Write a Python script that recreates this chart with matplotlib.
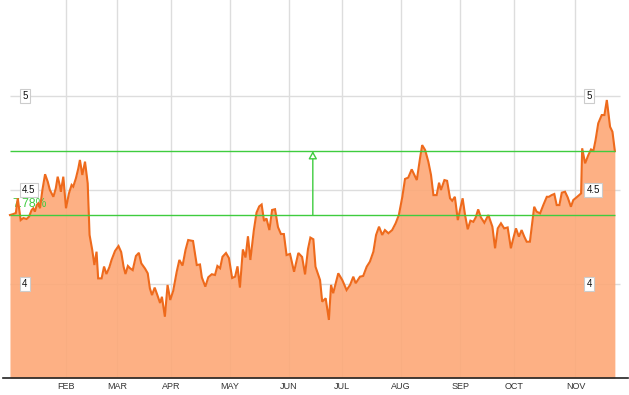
import matplotlib
matplotlib.use("Agg")
import matplotlib.pyplot as plt
import numpy as np

# trading-day index (from first day) and price
days = [0, 1.2, 2.2, 2.9, 4.0, 5.0, 6.2, 7.1, 8.1, 8.7, 9.3, 10.0, 10.6, 11.2, 12.1, 13.1, 14.1, 14.9,
        16.2, 17.1, 17.8, 18.7, 19.0, 19.9, 20.9, 22.0, 23.0, 23.6, 24.6, 25.5, 26.1, 27.0, 28.0, 29.0,
        29.7, 30.7, 31.5, 32.3, 32.9, 34.2, 35.1, 36.0, 37.1, 37.9, 39.2, 40.5, 41.5, 42.4, 43.1, 44.0,
        44.8, 45.8, 47.0, 48.1, 49.0, 50.4, 51.4, 52.2, 53.0, 54.0, 55.0, 56.0, 56.7, 57.8, 58.8, 59.8,
        60.9, 62.2, 63.2, 64.4, 65.5, 66.5, 68.3, 69.7, 70.9, 71.6, 72.9, 74.0, 75.3, 76.5, 77.4, 78.4,
        79.3, 80.6, 81.7, 82.9, 84.0, 84.9, 85.8, 86.9, 87.9, 88.8, 89.7, 91.0, 92.0, 93.0, 93.9, 94.8,
        95.7, 96.8, 97.8, 98.9, 100.0, 101.1, 102.2, 103.2, 104.5, 106.0, 107.6, 109.0, 110.1, 111.2,
        112.1, 113.2, 114.0, 115.7, 116.5, 117.8, 119.0, 119.8, 120.6, 122.5, 124.0, 125.6, 126.9, 128.1,
        129.0, 130.6, 131.8, 133.1, 134.3, 135.6, 136.6, 137.7, 138.9, 139.9, 141.2, 142.6, 143.9, 145.1,
        146.4, 147.4, 148.6, 149.9, 151.8, 153.0, 153.8, 154.9, 156.1, 157.1, 158.0, 159.2, 160.1, 160.8,
        162.1, 163.1, 164.2, 165.0, 166.0, 167.1, 167.9, 168.9, 169.8, 170.8, 171.8, 172.9, 173.8, 174.7,
        175.7, 177.0, 178.5, 180.0, 181.0, 182.0, 183.2, 184.4, 185.7, 186.9, 187.8, 188.8, 189.9, 190.9,
        191.9, 192.8, 194.0, 195.6, 196.5, 197.8, 199.0, 200.3, 201.1, 202.1, 203.1, 204.0, 205.0, 205.9,
        207.1, 208.1, 209.3, 210.2, 211.4, 213.1, 213.5, 214.6, 215.8, 216.8, 217.7, 218.5, 219.5, 220.8,
        221.8, 222.7, 223.9, 224.8, 225.7]
prices = [4.367, 4.372, 4.378, 4.456, 4.340, 4.351, 4.346, 4.358, 4.394, 4.403, 4.385, 4.420, 4.429, 4.403,
          4.500, 4.584, 4.544, 4.500, 4.464, 4.509, 4.571, 4.518, 4.491, 4.571, 4.403, 4.482, 4.527, 4.518,
          4.562, 4.615, 4.660, 4.580, 4.651, 4.536, 4.261, 4.181, 4.101, 4.172, 4.030, 4.030, 4.093, 4.053,
          4.090, 4.128, 4.176, 4.202, 4.170, 4.092, 4.053, 4.096, 4.084, 4.074, 4.149, 4.166, 4.110, 4.082,
          4.057, 3.977, 3.941, 3.981, 3.941, 3.899, 3.932, 3.826, 3.995, 3.915, 3.963, 4.064, 4.128, 4.098,
          4.181, 4.234, 4.229, 4.101, 4.104, 4.035, 3.986, 4.036, 4.052, 4.048, 4.096, 4.084, 4.145, 4.165,
          4.138, 4.032, 4.039, 4.094, 3.981, 4.184, 4.141, 4.254, 4.128, 4.287, 4.380, 4.413, 4.423, 4.335,
          4.349, 4.287, 4.394, 4.398, 4.303, 4.266, 4.266, 4.154, 4.160, 4.065, 4.165, 4.144, 4.051, 4.186,
          4.247, 4.238, 4.092, 4.021, 3.906, 3.924, 3.809, 3.995, 3.951, 4.057, 4.021, 3.968, 3.995, 4.039,
          4.004, 4.039, 4.043, 4.092, 4.119, 4.172, 4.261, 4.305, 4.261, 4.287, 4.270, 4.287, 4.323, 4.367,
          4.464, 4.559, 4.566, 4.610, 4.553, 4.669, 4.739, 4.713, 4.651, 4.580, 4.473, 4.473, 4.539, 4.500,
          4.553, 4.549, 4.456, 4.443, 4.464, 4.340, 4.394, 4.456, 4.367, 4.291, 4.337, 4.331, 4.355, 4.397,
          4.355, 4.326, 4.367, 4.305, 4.190, 4.296, 4.323, 4.296, 4.301, 4.190, 4.243, 4.296, 4.252, 4.287,
          4.252, 4.225, 4.225, 4.411, 4.385, 4.376, 4.420, 4.464, 4.464, 4.473, 4.479, 4.420, 4.420, 4.486,
          4.491, 4.461, 4.411, 4.447, 4.461, 4.482, 4.722, 4.642, 4.686, 4.716, 4.709, 4.766, 4.855, 4.899,
          4.899, 4.979, 4.837, 4.810, 4.707]

month_labels = ["FEB", "MAR", "APR", "MAY", "JUN", "JUL", "AUG", "SEP", "OCT", "NOV"]
month_days = [21, 40, 60, 82, 104, 124, 146, 168, 188, 211]
y_levels = [4, 4.5, 5]
y_level_labels = ["4", "4.5", "5"]
change_label = "7.78%"
arrow_day = 113

LINE = "#ee6a1c"
FILL = "#fda877"
GREEN = "#3fcc3f"
GRID = "#dddddd"

fig = plt.figure(figsize=(6.29, 3.95), dpi=100)
ax = fig.add_axes([3 / 629, 17 / 395, 625 / 629, 378 / 395])
ax.set_xlim(-2.6, 230.6)
ax.set_ylim(3.5, 5.511)

# grid
for d in month_days:
    ax.axvline(d, color=GRID, lw=1.0, zorder=1)
ax.hlines(y_levels, days[0], 227.6, color=GRID, lw=1.0, zorder=1)

ax.fill_between(days, prices, 3.5, color=FILL, alpha=0.9, lw=0, zorder=2)

first, last = prices[0], prices[-1]
ax.text(0.8, first + 0.058, change_label, color=GREEN, fontsize=8.8,
        family="Liberation Sans", va="center", ha="left", zorder=2.5)

ax.plot(days, prices, color=LINE, lw=1.5, zorder=3, solid_joinstyle="miter")

ax.hlines([first, last], days[0], days[-1], color=GREEN, lw=1.0, zorder=4)
ax.annotate("", xy=(arrow_day, last), xytext=(arrow_day, first),
            arrowprops=dict(arrowstyle="-|>,head_length=0.45,head_width=0.25",
                            color=GREEN, lw=1.0, fc="white", shrinkA=0, shrinkB=0),
            zorder=5)

box = dict(boxstyle="square,pad=0.25", fc="white", ec="#cccccc", lw=0.8)
for v, lab in zip(y_levels, y_level_labels):
    ax.text(4.6, v, lab, fontsize=7, family="Liberation Sans", va="center", ha="left",
            bbox=box, zorder=7, color="#111111")
    ax.text(215.1, v, lab, fontsize=7, family="Liberation Sans", va="center", ha="left",
            bbox=box, zorder=7, color="#111111")

ax.set_xticks(month_days)
ax.set_xticklabels(month_labels, fontsize=6.5, family="Liberation Sans", color="#333333")
ax.tick_params(axis="x", length=0, pad=3)
ax.set_yticks([])
for s in ["top", "left", "right"]:
    ax.spines[s].set_visible(False)
ax.spines["bottom"].set_color("#222222")
ax.spines["bottom"].set_linewidth(1.2)
ax.set_facecolor("white")

fig.savefig("out.png", dpi=100)
